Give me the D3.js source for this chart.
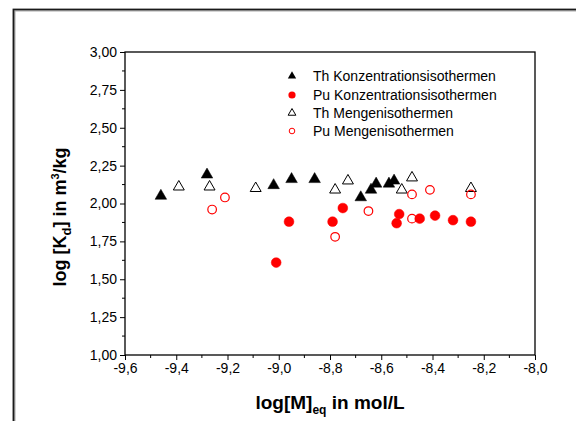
<!DOCTYPE html>
<html>
<head>
<meta charset="utf-8">
<script src="https://cdn.jsdelivr.net/npm/d3@7"></script>
<style>
  body { margin: 0; background: #fff; }
  svg { display: block; font-family: Arial, "Liberation Sans", sans-serif; }
</style>
</head>
<body>
<script>
// values
var thKonzX = [-9.46, -9.28, -9.02, -8.95, -8.86, -8.68, -8.64, -8.62, -8.57, -8.55];
var thKonzY = [2.05, 2.19, 2.12, 2.16, 2.16, 2.04, 2.09, 2.13, 2.13, 2.15];

var puKonzX = [-9.01, -8.96, -8.79, -8.75, -8.54, -8.53, -8.45, -8.39, -8.32, -8.25];
var puKonzY = [1.61, 1.88, 1.88, 1.97, 1.87, 1.93, 1.90, 1.92, 1.89, 1.88];

var thMengX = [-9.39, -9.27, -9.09, -8.78, -8.73, -8.52, -8.48, -8.25];
var thMengY = [2.11, 2.11, 2.10, 2.09, 2.15, 2.09, 2.17, 2.10];

var puMengX = [-9.26, -9.21, -8.78, -8.65, -8.48, -8.48, -8.41, -8.25];
var puMengY = [1.96, 2.04, 1.78, 1.95, 2.06, 1.90, 2.09, 2.06];

var xTicks = [-9.6, -9.4, -9.2, -9.0, -8.8, -8.6, -8.4, -8.2, -8.0];
var yTicks = [1.00, 1.25, 1.50, 1.75, 2.00, 2.25, 2.50, 2.75, 3.00];

var legendNames = ["Th Konzentrationsisothermen", "Pu Konzentrationsisothermen",
                   "Th Mengenisothermen", "Pu Mengenisothermen"];

var W = 576, H = 421;
// note: "top" is taken by window.top, so prefix these
var pLeft = 125, pRight = 535, pTop = 52, pBottom = 355;

var svg = d3.select("body").append("svg")
  .attr("width", W)
  .attr("height", H)

// outer frame (runs off right and bottom edge)
svg.append("path")
  .attr("d", "M14," + H + "V10H" + W)
  .attr("fill", "none")
  .attr("stroke", "#aaa")
  .attr("stroke-width", 3)
svg.append("path")
  .attr("d", "M13.5," + H + "V9.5H" + W)
  .attr("fill", "none")
  .attr("stroke", "#1a1a1a")
  .attr("stroke-width", 1.6)

var x = d3.scaleLinear().domain([-9.6, -8.0]).range([pLeft, pRight]);
var y = d3.scaleLinear().domain([1, 3]).range([pBottom, pTop]);

var comma = function (d, n) { return d.toFixed(n).replace(".", ","); };

// minor ticks first
var xMinor = d3.range(-9.5, -8.0, 0.2);
var yMinor = d3.range(1.125, 3, 0.25);

svg.append("g")
  .attr("transform", "translate(0," + pBottom + ")")
  .selectAll("line").data(xMinor).enter().append("line")
  .attr("x1", function (d) { return x(d); })
  .attr("x2", function (d) { return x(d); })
  .attr("y1", 0).attr("y2", 3)
  .attr("stroke", "#000")

svg.append("g")
  .attr("transform", "translate(" + pLeft + ",0)")
  .selectAll("line").data(yMinor).enter().append("line")
  .attr("y1", function (d) { return y(d); })
  .attr("y2", function (d) { return y(d); })
  .attr("x1", 0).attr("x2", -3)
  .attr("stroke", "#000")

var xAxis = svg.append("g")
  .attr("transform", "translate(0," + pBottom + ")")
  .call(d3.axisBottom(x).tickValues(xTicks).tickSize(5).tickPadding(3)
    .tickFormat(function (d) { return comma(d, 1); }))
var yAxis = svg.append("g")
  .attr("transform", "translate(" + pLeft + ",0)")
  .call(d3.axisLeft(y).tickValues(yTicks).tickSize(5).tickPadding(3)
    .tickFormat(function (d) { return comma(d, 2); }))

xAxis.selectAll("text").attr("font-size", 14).attr("fill", "#000").attr("font-family", "Arial, 'Liberation Sans', sans-serif")
yAxis.selectAll("text").attr("font-size", 14).attr("fill", "#000").attr("font-family", "Arial, 'Liberation Sans', sans-serif")
svg.selectAll(".domain").remove();

// plot box
svg.append("rect")
  .attr("x", pLeft).attr("y", pTop)
  .attr("width", pRight - pLeft).attr("height", pBottom - pTop)
  .attr("fill", "none")
  .attr("stroke", "#000")
  .attr("stroke-width", 1.3)

var tri = d3.symbol().type(d3.symbolTriangle);

function drawTriangles(xs, ys, filled, size) {
  svg.append("g").selectAll("path")
    .data(xs.map(function (d, i) { return [d, ys[i]]; }))
    .enter().append("path")
    .attr("transform", function (d) { return "translate(" + x(d[0]) + "," + y(d[1]) + ")"; })
    .attr("d", tri.size(size))
    .attr("fill", filled ? "#000" : "#fff")
    .attr("fill-opacity", filled ? 1 : 0)
    .attr("stroke", "#000")
    .attr("stroke-width", filled ? 0.5 : 1)
}

function drawCircles(xs, ys, filled, r) {
  svg.append("g").selectAll("circle")
    .data(xs.map(function (d, i) { return [d, ys[i]]; }))
    .enter().append("circle")
    .attr("cx", function (d) { return x(d[0]); })
    .attr("cy", function (d) { return y(d[1]); })
    .attr("r", r)
    .attr("fill", filled ? "#ff0000" : "none")
    .attr("stroke", "#ff0000")
    .attr("stroke-width", filled ? 0.5 : 1.2)
}

drawTriangles(thMengX, thMengY, false, 52);
drawCircles(puMengX, puMengY, false, 4.3);
drawTriangles(thKonzX, thKonzY, true, 58);
drawCircles(puKonzX, puKonzY, true, 4.9);

// legend
var legY = [76, 95, 113, 131];
var legX = 292;
var leg = svg.append("g");
leg.append("path").attr("transform", "translate(" + legX + "," + legY[0] + ")")
  .attr("d", tri.size(30)).attr("fill", "#000")
leg.append("circle").attr("cx", legX).attr("cy", legY[1]).attr("r", 3.6).attr("fill", "#ff0000")
leg.append("path").attr("transform", "translate(" + legX + "," + legY[2] + ")")
  .attr("d", tri.size(26)).attr("fill", "none").attr("stroke", "#000").attr("stroke-width", 1)
leg.append("circle").attr("cx", legX).attr("cy", legY[3]).attr("r", 2.8)
  .attr("fill", "none").attr("stroke", "#ff0000").attr("stroke-width", 1)

leg.selectAll("text").data(legendNames).enter().append("text")
  .attr("x", 313)
  .attr("y", function (d, i) { return legY[i]; })
  .attr("dy", "0.35em")
  .attr("font-size", 14)
  .text(function (d) { return d; })

// axis titles
var xt = svg.append("text")
  .attr("x", (pLeft + pRight) / 2)
  .attr("y", 409)
  .attr("text-anchor", "middle")
  .attr("font-size", 19)
  .attr("font-weight", "bold")
xt.append("tspan").text("log[M]")
xt.append("tspan").attr("font-size", 12).attr("dy", 5).text("eq")
xt.append("tspan").attr("dy", -5).text(" in mol/L")

var yt = svg.append("text")
  .attr("transform", "translate(66," + 217 + ") rotate(-90)")
  .attr("text-anchor", "middle")
  .attr("font-size", 18)
  .attr("font-weight", "bold")
yt.append("tspan").text("log [K")
yt.append("tspan").attr("font-size", 13).attr("dy", 5).text("d")
yt.append("tspan").attr("dy", -5).text("] in m")
yt.append("tspan").attr("font-size", 11).attr("dy", -7).text("3")
yt.append("tspan").attr("dy", 7).text("/kg")
</script>
</body>
</html>
